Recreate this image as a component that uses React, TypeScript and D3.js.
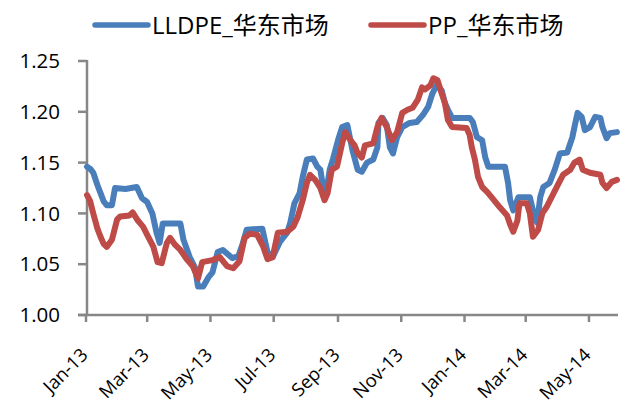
import React from "react";
import * as d3 from "d3";

const seriesNames = ["LLDPE_华东市场", "PP_华东市场"];
const seriesColors = ["#4a7ebb", "#be4b48"];

const lldpeDates = [
  "2013-01-02","2013-01-05","2013-01-08","2013-01-12","2013-01-15","2013-01-18","2013-01-21","2013-01-26","2013-01-29","2013-02-08",
  "2013-02-19","2013-02-24","2013-03-01","2013-03-06","2013-03-10","2013-03-13","2013-03-16","2013-03-25","2013-04-02","2013-04-05",
  "2013-04-11","2013-04-16","2013-04-19","2013-04-24","2013-04-29","2013-05-03","2013-05-08","2013-05-13","2013-05-22","2013-05-28",
  "2013-06-01","2013-06-05","2013-06-20","2013-06-25","2013-06-30","2013-07-07","2013-07-14","2013-07-17","2013-07-21","2013-07-26",
  "2013-07-29","2013-08-02","2013-08-08","2013-08-12","2013-08-15","2013-08-17","2013-08-21","2013-08-24","2013-08-27","2013-09-01",
  "2013-09-05","2013-09-10","2013-09-13","2013-09-15","2013-09-20","2013-09-24","2013-09-29","2013-10-05","2013-10-09","2013-10-10",
  "2013-10-14","2013-10-18","2013-10-21","2013-10-24","2013-10-28","2013-11-02","2013-11-09","2013-11-16","2013-11-22","2013-11-27",
  "2013-12-01","2013-12-05","2013-12-10","2013-12-13","2013-12-16","2013-12-20","2014-01-06","2014-01-09","2014-01-13","2014-01-18",
  "2014-01-21","2014-01-24","2014-02-09","2014-02-12","2014-02-14","2014-02-17","2014-02-22","2014-03-05","2014-03-08","2014-03-12",
  "2014-03-15","2014-03-18","2014-03-24","2014-03-29","2014-04-03","2014-04-10","2014-04-15","2014-04-17","2014-04-20","2014-04-24",
  "2014-04-27","2014-05-02","2014-05-07","2014-05-12","2014-05-14","2014-05-18","2014-05-21","2014-05-28"
];
const lldpeValues = [
  1.146,1.144,1.140,1.128,1.120,1.112,1.108,1.108,1.125,1.124,
  1.126,1.115,1.111,1.100,1.081,1.071,1.090,1.090,1.090,1.074,
  1.057,1.047,1.028,1.028,1.037,1.042,1.062,1.064,1.056,1.058,
  1.070,1.084,1.085,1.062,1.057,1.072,1.081,1.091,1.110,1.120,
  1.136,1.153,1.154,1.146,1.143,1.130,1.123,1.143,1.153,1.172,
  1.185,1.187,1.172,1.162,1.143,1.141,1.150,1.153,1.165,1.189,
  1.194,1.187,1.165,1.159,1.175,1.185,1.189,1.190,1.197,1.205,
  1.218,1.226,1.221,1.209,1.202,1.194,1.194,1.190,1.175,1.172,
  1.155,1.146,1.146,1.130,1.113,1.103,1.116,1.116,1.103,1.091,
  1.116,1.126,1.130,1.143,1.159,1.160,1.175,1.185,1.199,1.195,
  1.182,1.185,1.195,1.194,1.185,1.174,1.179,1.180
];

const ppDates = [
  "2013-01-02","2013-01-05","2013-01-08","2013-01-12","2013-01-15","2013-01-18","2013-01-21","2013-01-26","2013-01-31","2013-02-03",
  "2013-02-12","2013-02-15","2013-02-20","2013-02-25","2013-03-02","2013-03-07","2013-03-11","2013-03-15","2013-03-20","2013-03-23",
  "2013-03-28","2013-04-02","2013-04-08","2013-04-14","2013-04-19","2013-04-23","2013-05-03","2013-05-10","2013-05-17","2013-05-23",
  "2013-05-29","2013-06-03","2013-06-08","2013-06-15","2013-06-21","2013-06-25","2013-06-30","2013-07-05","2013-07-14","2013-07-20",
  "2013-07-24","2013-07-29","2013-08-02","2013-08-05","2013-08-10","2013-08-15","2013-08-19","2013-08-22","2013-08-26","2013-08-31",
  "2013-09-05","2013-09-08","2013-09-13","2013-09-17","2013-09-20","2013-09-24","2013-09-27","2013-10-05","2013-10-09","2013-10-13",
  "2013-10-18","2013-10-23","2013-10-28","2013-11-02","2013-11-07","2013-11-12","2013-11-17","2013-11-21","2013-11-24","2013-11-29",
  "2013-12-02","2013-12-06","2013-12-10","2013-12-13","2013-12-16","2013-12-20","2014-01-03","2014-01-06","2014-01-08","2014-01-11",
  "2014-01-14","2014-01-18","2014-01-23","2014-01-27","2014-02-04","2014-02-11","2014-02-14","2014-02-17","2014-02-21","2014-02-23",
  "2014-03-02","2014-03-05","2014-03-08","2014-03-13","2014-03-17","2014-03-21","2014-03-26","2014-03-31","2014-04-06","2014-04-13",
  "2014-04-17","2014-04-22","2014-04-25","2014-05-02","2014-05-12","2014-05-14","2014-05-18","2014-05-23","2014-05-28"
];
const ppValues = [
  1.118,1.112,1.100,1.085,1.077,1.070,1.067,1.074,1.094,1.097,
  1.098,1.101,1.093,1.087,1.077,1.067,1.052,1.051,1.071,1.076,
  1.069,1.064,1.055,1.048,1.036,1.052,1.054,1.057,1.048,1.046,
  1.053,1.076,1.080,1.079,1.067,1.055,1.057,1.081,1.082,1.087,
  1.096,1.113,1.130,1.138,1.133,1.125,1.113,1.120,1.143,1.146,
  1.169,1.180,1.172,1.167,1.159,1.155,1.167,1.169,1.185,1.194,
  1.185,1.172,1.180,1.199,1.202,1.204,1.212,1.224,1.222,1.226,
  1.233,1.231,1.218,1.209,1.192,1.185,1.184,1.177,1.165,1.153,
  1.136,1.126,1.121,1.116,1.106,1.098,1.089,1.082,1.093,1.110,
  1.110,1.100,1.077,1.084,1.100,1.106,1.116,1.126,1.138,1.143,
  1.150,1.153,1.143,1.140,1.138,1.130,1.125,1.131,1.133
];

const yTicks = [1.0, 1.05, 1.1, 1.15, 1.2, 1.25];
const xTickDates = ["2013-01-01","2013-03-01","2013-05-01","2013-07-01","2013-09-01","2013-11-01","2014-01-01","2014-03-01","2014-05-01"];
const xTickLabels = ["Jan-13","Mar-13","May-13","Jul-13","Sep-13","Nov-13","Jan-14","Mar-14","May-14"];
const xDomain = ["2013-01-01", "2014-05-29"];
const yDomain = [1.0, 1.25];

const parse = d3.timeParse("%Y-%m-%d");

export default function App() {
  const W = 626, H = 407;
  const plot = { left: 86, right: 618, top: 61, bottom: 315 };
  const x = d3.scaleTime().domain(xDomain.map((d) => parse(d) as Date)).range([plot.left, plot.right]);
  const y = d3.scaleLinear().domain(yDomain).range([plot.bottom, plot.top]);
  const line = d3
    .line<[Date, number]>()
    .x((d) => x(d[0]))
    .y((d) => y(d[1]));

  const series = [
    lldpeDates.map((d, i) => [parse(d) as Date, lldpeValues[i]] as [Date, number]),
    ppDates.map((d, i) => [parse(d) as Date, ppValues[i]] as [Date, number]),
  ];

  const axisColor = "#878787";
  const font = "'Open Sans', 'Noto Sans CJK SC', sans-serif";
  const legendX = [95, 371];

  return (
    <svg width={W} height={H} style={{ position: "absolute", left: 0, top: 0, background: "#fff" }} fontFamily={font}>
      <rect x={0} y={0} width={W} height={H} fill="#fff" />
      {/* legend */}
      {seriesNames.map((name, i) => (
        <g key={name}>
          <line x1={legendX[i]} x2={legendX[i] + 53} y1={25} y2={25} stroke={seriesColors[i]} strokeWidth={5.5} strokeLinecap="round" />
          <text x={legendX[i] + 57} y={34} fontSize={24} fill="#000">{name}</text>
        </g>
      ))}
      {/* y axis */}
      <line x1={plot.left + 1} x2={plot.left + 1} y1={y(1.25) - 1} y2={plot.bottom} stroke={axisColor} strokeWidth={2.5} />
      {yTicks.map((t) => (
        <g key={t}>
          <line x1={plot.left - 8} x2={plot.left + 1} y1={y(t)} y2={y(t)} stroke={axisColor} strokeWidth={2.5} />
          <text x={60} y={y(t)} dy="0.35em" textAnchor="end" fontSize={20.5} fill="#000">{d3.format(".2f")(t)}</text>
        </g>
      ))}
      {/* x axis */}
      <line x1={plot.left - 8} x2={plot.right} y1={plot.bottom} y2={plot.bottom} stroke={axisColor} strokeWidth={2.5} />
      {xTickDates.map((d, i) => {
        const tx = x(parse(d) as Date);
        return (
          <g key={d}>
            <line x1={tx} x2={tx} y1={plot.bottom} y2={plot.bottom + 7} stroke={axisColor} strokeWidth={2.5} />
            <text
              transform={`translate(${tx + 3},${plot.bottom + 41}) rotate(-45)`}
              textAnchor="end"
              fontSize={18.5}
              fill="#000"
            >
              {xTickLabels[i]}
            </text>
          </g>
        );
      })}
      {/* series */}
      {series.map((s, i) => (
        <path key={i} d={line(s) || ""} fill="none" stroke={seriesColors[i]} strokeWidth={6} strokeLinejoin="round" strokeLinecap="round" />
      ))}
    </svg>
  );
}
